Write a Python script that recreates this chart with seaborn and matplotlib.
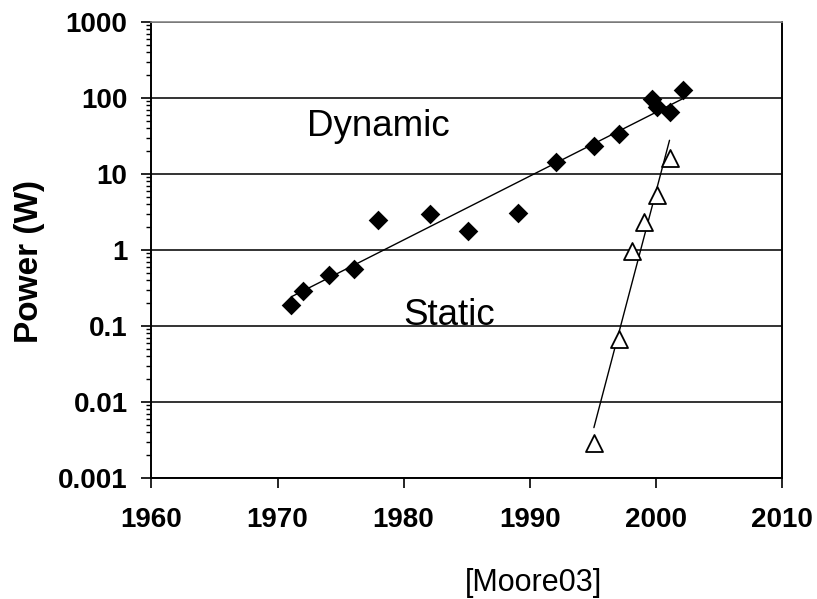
import numpy as np
import pandas as pd
import matplotlib
matplotlib.use("Agg")
import matplotlib.pyplot as plt
import seaborn as sns
from matplotlib.ticker import LogLocator, NullFormatter

# ---- data ----
dyn_years = [1971.1, 1972.0, 1974.1, 1976.1, 1978.0, 1982.1, 1985.1, 1989.1,
             1992.1, 1995.1, 1997.1, 1999.7, 2000.1, 2001.1, 2002.2]
dyn_power = [0.19, 0.29, 0.47, 0.57, 2.5, 2.95, 1.78, 3.1,
             14.5, 23.6, 33.6, 97, 76, 65, 127]
sta_years = [1995.1, 1997.1, 1998.1, 1999.1, 2000.1, 2001.1]
sta_power = [0.0029, 0.067, 0.97, 2.36, 5.3, 16.1]

x_ticks = [1960, 1970, 1980, 1990, 2000, 2010]
y_ticks = [0.001, 0.01, 0.1, 1, 10, 100, 1000]
y_tick_labels = ["0.001", "0.01", "0.1", "1", "10", "100", "1000"]
series_labels = ["Dynamic", "Static"]
y_label = "Power (W)"
source_note = "[Moore03]"

sns.set_style("white")
plt.rcParams["font.family"] = ["Liberation Sans", "DejaVu Sans"]
plt.rcParams["text.color"] = "black"
plt.rcParams["axes.labelcolor"] = "black"
plt.rcParams["xtick.color"] = "black"
plt.rcParams["ytick.color"] = "black"

dyn = pd.DataFrame({"year": dyn_years, "power": dyn_power})
sta = pd.DataFrame({"year": sta_years, "power": sta_power})


def trend(df):
    coef = np.polyfit(df["year"], np.log10(df["power"]), 1)
    xs = np.linspace(df["year"].min(), df["year"].max(), 200)
    return pd.DataFrame({"year": xs, "power": 10 ** np.polyval(coef, xs)})


fig = plt.figure(figsize=(8.17, 5.99), dpi=100)
ax = fig.add_axes([0.1854, 0.2020, 0.7714, 0.7613])
ax.set_yscale("log")

sns.lineplot(data=trend(dyn), x="year", y="power", ax=ax, color="black",
             lw=1.0, estimator=None, sort=False, zorder=2)
sns.lineplot(data=trend(sta), x="year", y="power", ax=ax, color="black",
             lw=1.0, estimator=None, sort=False, zorder=2)
sns.scatterplot(data=dyn, x="year", y="power", ax=ax, marker="D", s=100,
                color="black", edgecolor="black", linewidth=0, zorder=3)
sns.scatterplot(data=sta, x="year", y="power", ax=ax, marker="^", s=150,
                color="white", edgecolor="black", linewidth=1.3, zorder=3)

ax.set_xlim(1960, 2010)
ax.set_ylim(0.001, 1000)
ax.set_xticks(x_ticks)
ax.set_xticklabels([str(t) for t in x_ticks])
ax.set_yticks(y_ticks)
ax.set_yticklabels(y_tick_labels)
ax.yaxis.set_minor_locator(LogLocator(base=10, subs=np.arange(2, 10), numticks=30))
ax.yaxis.set_minor_formatter(NullFormatter())

ax.tick_params(axis="both", which="major", direction="out", length=7.2,
               width=1.2, labelsize=20, color="black", labelcolor="black",
               bottom=True, left=True)
ax.tick_params(axis="x", which="major", pad=14)
ax.tick_params(axis="y", which="major", pad=10)
ax.tick_params(axis="y", which="minor", direction="out", length=3.6,
               width=1.0, left=True, color="black")
for lbl in ax.get_xticklabels() + ax.get_yticklabels():
    lbl.set_fontweight("bold")

ax.yaxis.grid(True, which="major", color="#111111", lw=1.2)
ax.xaxis.grid(False)
ax.set_axisbelow(True)

for side in ["left", "bottom", "right"]:
    ax.spines[side].set_color("black")
    ax.spines[side].set_linewidth(1.4)
ax.spines["top"].set_color("#888888")
ax.spines["top"].set_linewidth(1.2)

ax.text(1972.3, 10 ** 1.5, series_labels[0], fontsize=26.5, color="black",
        ha="left", va="baseline")
ax.text(1979.95, 10 ** -0.99, series_labels[1], fontsize=26.5, color="black",
        ha="left", va="baseline")

ax.set_xlabel("")
ax.set_ylabel(y_label, fontsize=24, fontweight="bold", color="black")
ax.yaxis.set_label_coords(-0.169, 0.474)

fig.text(465 / 817, 1 - 591 / 599, source_note, fontsize=22, color="black",
         ha="left", va="baseline")

fig.savefig("out.png", dpi=100)
